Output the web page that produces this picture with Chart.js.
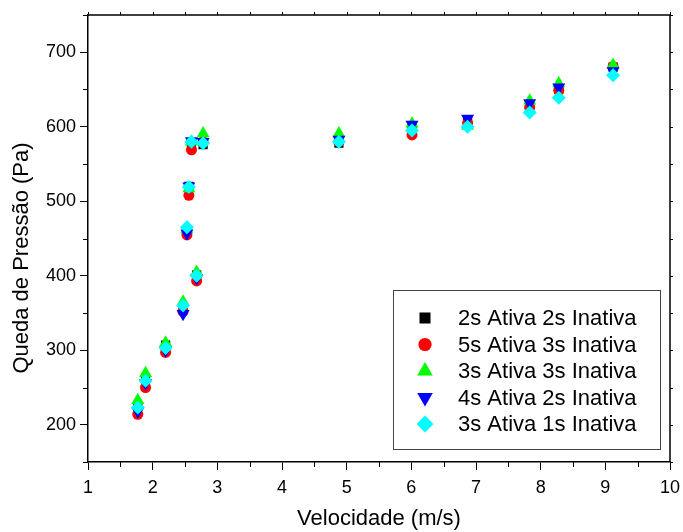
<!DOCTYPE html>
<html>
<head>
<meta charset="utf-8">
<script src="https://cdn.jsdelivr.net/npm/chart.js@4.4.1/dist/chart.umd.min.js"></script>
<style>
  html, body { margin: 0; padding: 0; background: #fff; }
  #wrap { width: 683px; height: 532px; }
</style>
</head>
<body>
<div id="wrap"><canvas id="chart" width="683" height="532"></canvas></div>
<script>
// velocity (m/s), shared by every series
const velocity = [1.77, 1.89, 2.2, 2.47, 2.53, 2.56, 2.6, 2.68, 2.78, 4.88, 6.01, 6.87, 7.83, 8.28, 9.12];

// pressure drop (Pa) for each cycle
const ativa2Inativa2 = [225, 262, 307, 358, 460, 520, 578, 401, 576, 578, 600, 608, 628, 650, 680];
const ativa5Inativa3 = [214, 250, 297, 352, 455, 508, 569, 393, 580, 580, 589, 605, 626, 649, 681];
const ativa3Inativa3 = [233, 269, 310, 365, 462, 517, 580, 405, 591, 591, 604, 601, 635, 658, 683];
const ativa4Inativa2 = [218, 256, 300, 349, 457, 520, 581, 397, 580, 583, 603, 611, 632, 653, 675];
const ativa3Inativa1 = [223, 259, 303, 360, 465, 519, 580, 400, 578, 580, 595, 600, 619, 639, 669];

const seriesLabels = [
    '2s Ativa 2s Inativa',
    '5s Ativa 3s Inativa',
    '3s Ativa 3s Inativa',
    '4s Ativa 2s Inativa',
    '3s Ativa 1s Inativa'
];

// labelled ticks
const xTicks = [1, 2, 3, 4, 5, 6, 7, 8, 9, 10];
const yTicks = [200, 300, 400, 500, 600, 700];

const FONT = '"Liberation Sans", Arial, sans-serif';

function toPoints(values) {
    return values.map((v, i) => ({ x: velocity[i], y: v }));
}

function makeSeries(label, values, color, style, radius, rotation, order) {
    return {
        label: label,
        data: toPoints(values),
        backgroundColor: color,
        borderColor: color,
        borderWidth: 0,
        pointStyle: style,
        pointRadius: radius,
        pointRotation: rotation,
        order: order
    };
}

// frame on top/right, minor ticks and the y title (sits a bit below centre in the original)
const framePlugin = {
    id: 'frame',
    afterDraw(chart) {
        const { ctx, chartArea: a, scales: { x, y } } = chart;
        ctx.save();
        ctx.strokeStyle = '#000';
        ctx.lineWidth = 1.5;
        ctx.beginPath();
        ctx.moveTo(a.left, a.top);
        ctx.lineTo(a.right, a.top);
        ctx.lineTo(a.right, a.bottom);
        ctx.stroke();

        ctx.lineWidth = 1;
        ctx.beginPath();
        for (let v = x.min; v <= x.max + 0.001; v += 0.5) {
            const px = Math.round(x.getPixelForValue(v)) + 0.5;
            if (v % 1 !== 0) {
                ctx.moveTo(px, a.bottom);
                ctx.lineTo(px, a.bottom + 5);
            }
            ctx.moveTo(px, a.top);
            ctx.lineTo(px, a.top - 3);
        }
        for (let v = y.min; v <= y.max; v += 50) {
            const py = Math.round(y.getPixelForValue(v)) + 0.5;
            if (v % 100 !== 0) {
                ctx.moveTo(a.left, py);
                ctx.lineTo(a.left - 5, py);
            }
            ctx.moveTo(a.right, py);
            ctx.lineTo(a.right + 3, py);
        }
        ctx.stroke();

        ctx.translate(22, 258);
        ctx.rotate(-Math.PI / 2);
        ctx.fillStyle = '#000';
        ctx.font = '22px ' + FONT;
        ctx.textAlign = 'center';
        ctx.textBaseline = 'middle';
        ctx.fillText('Queda de Pressão (Pa)', 0, 0);
        ctx.restore();
    }
};

// legend box inside the plot
const insideLegend = {
    id: 'insideLegend',
    afterDraw(chart) {
        const ctx = chart.ctx;
        const boxX = 393.5, boxY = 290.5, boxW = 267, boxH = 159;
        ctx.save();
        ctx.fillStyle = '#fff';
        ctx.fillRect(boxX, boxY, boxW, boxH);
        ctx.strokeStyle = '#444';
        ctx.lineWidth = 1;
        ctx.strokeRect(boxX, boxY, boxW, boxH);
        ctx.font = '22px ' + FONT;
        ctx.textBaseline = 'middle';
        chart.data.datasets.forEach((ds, i) => {
            const rowY = 318 + i * 26.5;
            ctx.fillStyle = ds.backgroundColor;
            Chart.helpers.drawPoint(ctx, {
                pointStyle: ds.pointStyle,
                radius: ds.pointRadius * 1.2,
                rotation: ds.pointRotation,
                borderWidth: 0
            }, 425, rowY);
            ctx.fillStyle = '#000';
            ctx.fillText(ds.label, 458, rowY + 1);
        });
        ctx.restore();
    }
};

new Chart(document.getElementById('chart').getContext('2d'), {
    type: 'scatter',
    data: {
        datasets: [
            makeSeries(seriesLabels[0], ativa2Inativa2, '#000000', 'rect', 6.5, 0, 5),
            makeSeries(seriesLabels[1], ativa5Inativa3, '#ff0000', 'circle', 5.5, 0, 4),
            makeSeries(seriesLabels[2], ativa3Inativa3, '#00ff00', 'triangle', 7.5, 0, 3),
            makeSeries(seriesLabels[3], ativa4Inativa2, '#0000ff', 'triangle', 7.5, 180, 2),
            makeSeries(seriesLabels[4], ativa3Inativa1, '#00ffff', 'rectRot', 7, 0, 1)
        ]
    },
    options: {
        responsive: false,
        animation: false,
        layout: { padding: { top: 15, right: 13, left: 0, bottom: 0 } },
        plugins: {
            legend: { display: false },
            tooltip: { enabled: false }
        },
        scales: {
            x: {
                type: 'linear',
                min: 1,
                max: 10,
                afterFit(scale) {
                    scale.height = 70;
                    scale.paddingLeft = 0;
                    scale.paddingRight = 0;
                },
                afterBuildTicks(scale) { scale.ticks = xTicks.map(v => ({ value: v })); },
                border: { color: '#000', width: 1.5 },
                grid: { drawOnChartArea: false, tickLength: 8, color: '#000', tickWidth: 1 },
                ticks: { color: '#000', padding: 7, maxRotation: 0, font: { family: FONT, size: 18 } },
                title: {
                    display: true,
                    text: 'Velocidade (m/s)',
                    color: '#000',
                    font: { family: FONT, size: 22 },
                    padding: { top: 0, bottom: 0 }
                }
            },
            y: {
                type: 'linear',
                min: 150,
                max: 750,
                afterFit(scale) {
                    scale.width = 88;
                    scale.paddingTop = 0;
                    scale.paddingBottom = 0;
                },
                afterBuildTicks(scale) { scale.ticks = yTicks.map(v => ({ value: v })); },
                border: { color: '#000', width: 1.5 },
                grid: { drawOnChartArea: false, tickLength: 8, color: '#000', tickWidth: 1 },
                ticks: { color: '#000', padding: 4, font: { family: FONT, size: 18 } }
            }
        }
    },
    plugins: [framePlugin, insideLegend]
});
</script>
</body>
</html>
